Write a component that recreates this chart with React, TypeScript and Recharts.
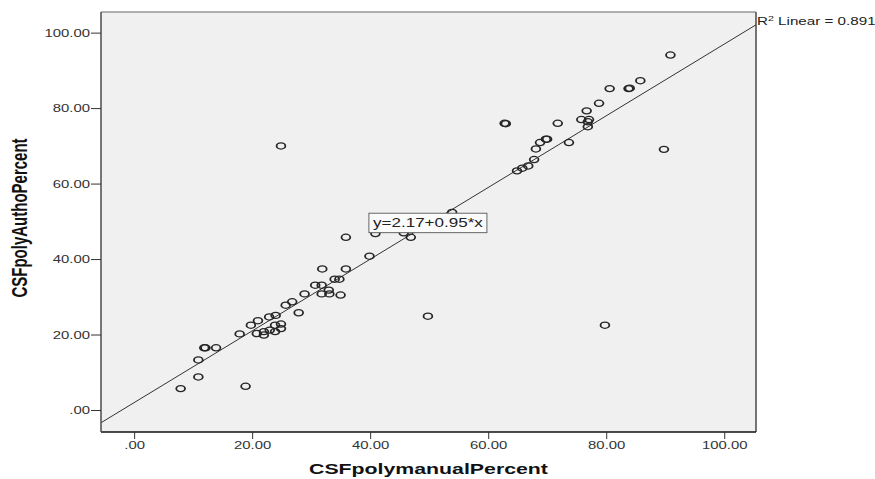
import React from 'react';
import {
  ScatterChart,
  Scatter,
  XAxis,
  YAxis,
  CartesianGrid,
  ReferenceLine,
  ReferenceDot,
} from 'recharts';

// CSFpolymanualPercent (x) vs CSFpolyAuthoPercent (y)
const manualPercent = [
  7.8, 10.8, 10.8, 11.8, 12.0, 13.8, 18.8, 17.8, 19.7, 20.9, 20.7, 21.9, 21.9, 22.9, 23.8, 23.8,
  24.8, 24.8, 22.8, 23.9, 25.6, 26.7, 27.8, 28.8, 30.6, 31.7, 31.8, 31.7, 32.9, 33.0, 33.9, 34.7,
  34.9, 35.8, 35.8, 39.8, 40.8, 45.6, 46.8, 49.7, 53.8, 24.8, 62.7, 62.9, 71.7, 64.8, 65.7, 66.7,
  67.7, 68.0, 68.7, 69.7, 69.9, 73.6, 75.7, 76.6, 76.8, 76.8, 77.0, 78.7, 80.5, 83.7, 83.9, 85.7,
  90.8, 89.7, 79.7,
];
const authoPercent = [
  5.8, 8.9, 13.4, 16.6, 16.6, 16.6, 6.4, 20.3, 22.6, 23.8, 20.4, 20.0, 20.9, 21.3, 20.9, 22.6,
  22.9, 21.7, 24.8, 25.2, 27.9, 28.8, 25.9, 30.9, 33.2, 33.2, 37.5, 30.9, 31.9, 30.9, 34.8, 34.8,
  30.6, 37.5, 45.9, 40.9, 46.9, 47.1, 45.9, 25.0, 52.5, 70.1, 76.1, 76.0, 76.1, 63.5, 64.2, 64.8,
  66.5, 69.3, 71.0, 71.9, 71.9, 71.0, 77.1, 79.4, 76.5, 75.2, 77.1, 81.4, 85.3, 85.3, 85.4, 87.4,
  94.2, 69.2, 22.6,
];
const axisTicks = [0, 20, 40, 60, 80, 100];
const intercept = 2.17;
const slope = 0.95;
const rSquared = 0.891;
const xDomain: [number, number] = [-5.7, 105.3];
const yDomain: [number, number] = [-5.7, 105.6];
const equationAt = { x: 49.7, y: 49.7 };

const points = manualPercent.map((x, i) => ({ x, y: authoPercent[i] }));
const fitLine = xDomain.map((x) => ({ x, y: intercept + slope * x }));

// the original export is stretched sideways, so text and markers are too
const STRETCH = 1.42;
const FONT = '"Liberation Sans", Arial, sans-serif';

const fmt = (v: number) => (v === 0 ? '.00' : v.toFixed(2));

function YTick({ x, y, payload }: any) {
  return (
    <text
      transform={`translate(${x},${y}) scale(${STRETCH},1)`}
      textAnchor="end"
      dy="0.35em"
      fontSize={10.5}
      fontFamily={FONT}
      fill="#333"
    >
      {fmt(payload.value)}
    </text>
  );
}

function XTick({ x, y, payload }: any) {
  return (
    <text
      transform={`translate(${x},${y + 7.5}) scale(${STRETCH},1)`}
      textAnchor="middle"
      fontSize={10.5}
      fontFamily={FONT}
      fill="#333"
    >
      {fmt(payload.value)}
    </text>
  );
}

function Ring({ cx, cy }: any) {
  return (
    <circle
      r={3.1}
      transform={`translate(${cx},${cy}) scale(${STRETCH},1)`}
      fill="none"
      stroke="#262626"
      strokeWidth={1.25}
    />
  );
}

function EquationBox({ cx, cy }: any) {
  return (
    <g>
      <rect x={cx - 59} y={cy - 9.7} width={118} height={19.4} fill="#fbfbfb" stroke="#666" />
      <text
        transform={`translate(${cx},${cy}) scale(${STRETCH},1)`}
        textAnchor="middle"
        dy="0.36em"
        fontSize={12}
        fontFamily={FONT}
        fill="#222"
      >
        {`y=${intercept}+${slope}*x`}
      </text>
    </g>
  );
}

function RSquaredLabel({ viewBox }: any) {
  const x = viewBox.x + viewBox.width + 1;
  const y = viewBox.y + 13;
  return (
    <text
      transform={`translate(${x},${y}) scale(${STRETCH},1)`}
      fontSize={10.7}
      fontFamily={FONT}
      fill="#222"
    >
      <tspan>R</tspan>
      <tspan dy={-4} fontSize={7.5}>2</tspan>
      <tspan dy={4}>{` Linear = ${rSquared}`}</tspan>
    </text>
  );
}

function XTitle({ viewBox }: any) {
  const cx = viewBox.x + viewBox.width / 2;
  return (
    <text
      transform={`translate(${cx},474) scale(${STRETCH},1)`}
      textAnchor="middle"
      fontSize={15}
      fontWeight="bold"
      fontFamily={FONT}
      fill="#111"
    >
      CSFpolymanualPercent
    </text>
  );
}

function YTitle({ viewBox }: any) {
  const cy = viewBox.y + viewBox.height / 2 - 4;
  return (
    <text
      transform={`translate(27,${cy}) scale(${STRETCH},1) rotate(-90)`}
      textAnchor="middle"
      fontSize={15}
      fontWeight="bold"
      fontFamily={FONT}
      fill="#111"
    >
      CSFpolyAuthoPercent
    </text>
  );
}

export default function App() {
  return (
    <div style={{ position: 'absolute', left: 0, top: 0, width: 875, height: 479, background: '#fff' }}>
      <ScatterChart width={875} height={479} margin={{ top: 12, right: 119, left: 16, bottom: 17 }}>
        <CartesianGrid horizontal={false} vertical={false} fill="#f0f0f0" />
        <XAxis
          type="number"
          dataKey="x"
          domain={xDomain}
          ticks={axisTicks}
          allowDataOverflow
          height={30}
          tickSize={7}
          tickLine={{ stroke: '#333' }}
          axisLine={{ stroke: '#111', strokeWidth: 1.4 }}
          tick={<XTick />}
          label={{ content: XTitle }}
        />
        <YAxis
          type="number"
          dataKey="y"
          domain={yDomain}
          ticks={axisTicks}
          allowDataOverflow
          width={85}
          tickSize={10}
          tickMargin={1}
          tickLine={{ stroke: '#333' }}
          axisLine={{ stroke: '#555', strokeWidth: 1.6 }}
          tick={<YTick />}
          label={{ content: YTitle }}
        />
        <ReferenceLine y={yDomain[1]} stroke="#666" strokeWidth={1.2} label={{ content: RSquaredLabel }} />
        <ReferenceLine x={xDomain[1]} stroke="#666" strokeWidth={1.8} />
        <ReferenceLine
          segment={fitLine}
          stroke="#333"
          strokeWidth={1}
        />
        <Scatter data={points} shape={<Ring />} isAnimationActive={false} />
        <ReferenceDot x={equationAt.x} y={equationAt.y} shape={<EquationBox />} />
      </ScatterChart>
    </div>
  );
}
